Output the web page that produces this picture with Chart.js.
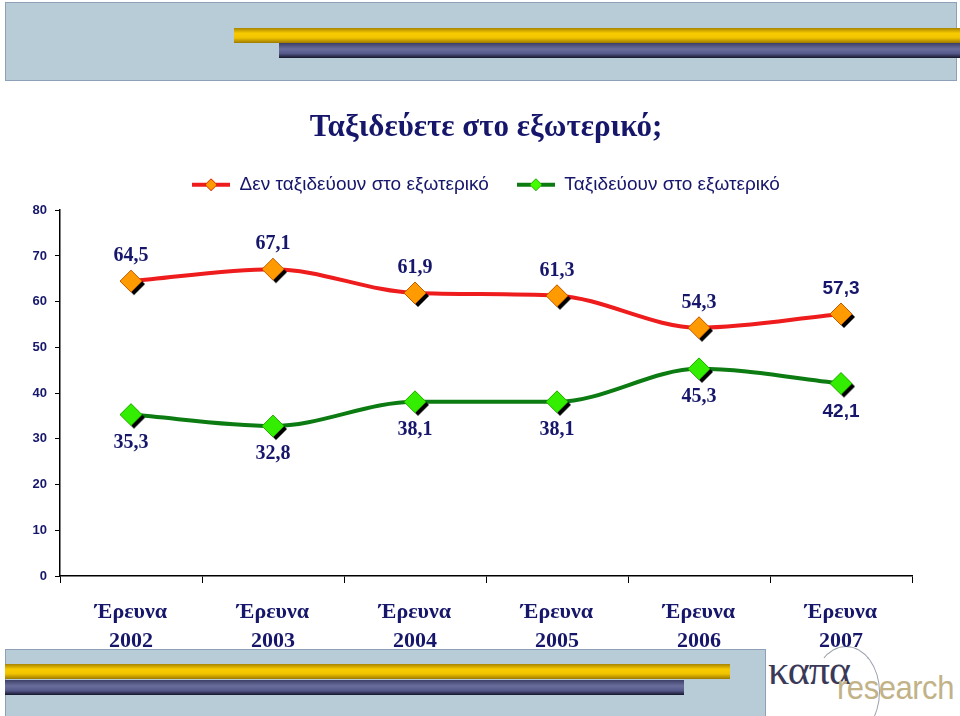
<!DOCTYPE html>
<html>
<head>
<meta charset="utf-8">
<script src="https://cdn.jsdelivr.net/npm/chart.js@4.4.1/dist/chart.umd.min.js"></script>
<style>
html, body { margin: 0; padding: 0; background: #fff; }
#wrap { position: relative; width: 960px; height: 716px; overflow: hidden; }
.panel { position: absolute; background: #b8ccd7; border: 1px solid #8e9fb8; box-sizing: border-box; }
.gold { position: absolute; height: 15px; background: linear-gradient(#a88400, #f7cb00 35%, #f2c400 65%, #9c7a00); }
.navy { position: absolute; height: 15px; background: linear-gradient(#3c4068, #6a6e9c 40%, #55598a 70%, #15162a); }
#chart { position: absolute; left: 0; top: 0; }
.kapa { position: absolute; left: 768px; top: 646px; font: 42px "Liberation Serif", serif; color: #3a3a58; letter-spacing: -1px; }
.research { position: absolute; left: 837px; top: 669px; font: 33px "Liberation Sans", sans-serif; color: #c2b287; letter-spacing: -0.5px; transform: scaleX(0.94); transform-origin: left top; }
.arc { position: absolute; left: 812px; top: 646px; width: 66px; height: 90px; border: 1px solid #9aa0ac; border-radius: 50%; border-left-color: transparent; border-bottom-color: transparent; }
</style>
</head>
<body>
<div id="wrap">
  <div class="panel" style="left:5px;top:2px;width:952px;height:79px;"></div>
  <div class="gold" style="left:234px;top:28px;width:726px;"></div>
  <div class="navy" style="left:279px;top:43px;width:681px;"></div>

  <div class="panel" style="left:5px;top:649px;width:761px;height:80px;"></div>
  <div class="gold" style="left:5px;top:664px;width:725px;"></div>
  <div class="navy" style="left:5px;top:680px;width:679px;"></div>
  <div class="arc"></div>
  <div class="kapa">καπα</div>
  <div class="research">research</div>

  <canvas id="chart" width="960" height="716"></canvas>
</div>
<script>
// Data
const years = ['2002', '2003', '2004', '2005', '2006', '2007'];
const surveyWord = 'Έρευνα';
const notTravelling = [64.5, 67.1, 61.9, 61.3, 54.3, 57.3];
const travelling = [35.3, 32.8, 38.1, 38.1, 45.3, 42.1];
const seriesNames = ['Δεν ταξιδεύουν στο εξωτερικό', 'Ταξιδεύουν στο εξωτερικό'];
const titleText = 'Ταξιδεύετε στο εξωτερικό;';

const navy = '#16166b';

// Diamond marker with a black drop shadow
function diamond(fill, edge, r, shadow) {
    const size = 2 * (r + 4);
    const c = document.createElement('canvas');
    c.width = size;
    c.height = size;
    const g = c.getContext('2d');
    const m = size / 2;
    const path = (cx, cy) => {
        g.beginPath();
        g.moveTo(cx, cy - r);
        g.lineTo(cx + r, cy);
        g.lineTo(cx, cy + r);
        g.lineTo(cx - r, cy);
        g.closePath();
    };
    if (shadow) {
        path(m + 3, m + 3);
        g.fillStyle = '#000';
        g.fill();
    }
    path(m, m);
    g.fillStyle = fill;
    g.fill();
    g.lineWidth = 1;
    g.strokeStyle = edge;
    g.stroke();
    return c;
}

// Legend symbol: line with a small diamond in the middle
function legendMark(line, fill, edge) {
    const c = document.createElement('canvas');
    c.width = 38;
    c.height = 14;
    const g = c.getContext('2d');
    g.strokeStyle = line;
    g.lineWidth = 4;
    g.beginPath();
    g.moveTo(0, 7);
    g.lineTo(38, 7);
    g.stroke();
    g.beginPath();
    g.moveTo(19, 1);
    g.lineTo(25, 7);
    g.lineTo(19, 13);
    g.lineTo(13, 7);
    g.closePath();
    g.fillStyle = fill;
    g.fill();
    g.lineWidth = 1;
    g.strokeStyle = edge;
    g.stroke();
    return c;
}

const redMarker = diamond('#ff9a00', '#c05a00', 11, true);
const greenMarker = diamond('#33ee00', '#22aa00', 11, true);
const redLegend = legendMark('#ee1c1c', '#ff9a00', '#cc2200');
const greenLegend = legendMark('#0c7c12', '#44ff00', '#22aa00');

// Value labels above / below the points
const valueLabels = {
    id: 'valueLabels',
    afterDatasetsDraw(chart) {
        const ctx = chart.ctx;
        ctx.save();
        ctx.fillStyle = navy;
        ctx.textAlign = 'center';
        ctx.textBaseline = 'middle';
        chart.data.datasets.forEach((ds, di) => {
            const meta = chart.getDatasetMeta(di);
            meta.data.forEach((pt, i) => {
                const last = i === ds.data.length - 1;
                ctx.font = last
                    ? 'bold 19px "Liberation Sans", Arial, sans-serif'
                    : 'bold 20px "Liberation Serif", "Times New Roman", serif';
                const dy = di === 0 ? -25 : 28;
                ctx.fillText(ds.data[i].toFixed(1).replace('.', ','), pt.x, pt.y + dy);
            });
        });
        ctx.restore();
    }
};

// Small empty box between the legend and the plot area
const legendGap = {
    id: 'legendGap',
    beforeInit(chart) {
        Chart.layouts.addBox(chart, {
            position: 'top',
            weight: 500,
            fullSize: false,
            options: {},
            isHorizontal() { return true; },
            update(maxWidth) { this.width = maxWidth; this.height = 6; },
            draw() {}
        });
    }
};

new Chart(document.getElementById('chart'), {
    type: 'line',
    data: {
        labels: years.map(y => [surveyWord, y]),
        datasets: [
            {
                label: seriesNames[0],
                data: notTravelling,
                borderColor: '#ee1c1c',
                borderWidth: 4,
                pointStyle: redMarker,
                cubicInterpolationMode: 'monotone',
                fill: false
            },
            {
                label: seriesNames[1],
                data: travelling,
                borderColor: '#0c7c12',
                borderWidth: 4,
                pointStyle: greenMarker,
                cubicInterpolationMode: 'monotone',
                fill: false
            }
        ]
    },
    options: {
        responsive: false,
        animation: false,
        events: [],
        layout: { padding: { left: 5, right: 48, top: 93, bottom: 0 } },
        scales: {
            x: {
                offset: true,
                grid: { display: true, offset: true, drawOnChartArea: false, tickLength: 7, color: '#000' },
                border: { color: '#000', width: 1.5 },
                ticks: {
                    color: navy,
                    autoSkip: false,
                    maxRotation: 0,
                    padding: 14,
                    font: { family: '"Liberation Serif", "Times New Roman", serif', size: 22, weight: 'bold', lineHeight: 1.35 }
                },
                afterFit(scale) { scale.height = 140; }
            },
            y: {
                min: 0,
                max: 80,
                grid: { drawOnChartArea: false, tickLength: 5, color: '#000' },
                border: { color: '#000', width: 1.5 },
                ticks: {
                    stepSize: 10,
                    color: navy,
                    padding: 8,
                    font: { family: '"Liberation Sans", Arial, sans-serif', size: 13, weight: 'bold' }
                },
                afterFit(scale) { scale.width = 55; }
            }
        },
        plugins: {
            title: {
                display: true,
                fullSize: false,
                text: titleText,
                color: navy,
                font: { family: '"Liberation Serif", "Times New Roman", serif', size: 31, weight: 'bold' },
                padding: { top: 16, bottom: 1 }
            },
            legend: {
                display: true,
                fullSize: false,
                labels: {
                    color: navy,
                    usePointStyle: true,
                    pointStyleWidth: 38,
                    padding: 28,
                    font: { family: '"Liberation Sans", Arial, sans-serif', size: 19 },
                    generateLabels(chart) {
                        return chart.data.datasets.map((ds, i) => ({
                            text: ds.label,
                            fontColor: navy,
                            pointStyle: i === 0 ? redLegend : greenLegend,
                            lineWidth: 0,
                            strokeStyle: 'transparent',
                            fillStyle: 'transparent',
                            datasetIndex: i,
                            hidden: false
                        }));
                    }
                }
            },
            tooltip: { enabled: false }
        }
    },
    plugins: [valueLabels, legendGap]
});
</script>
</body>
</html>
